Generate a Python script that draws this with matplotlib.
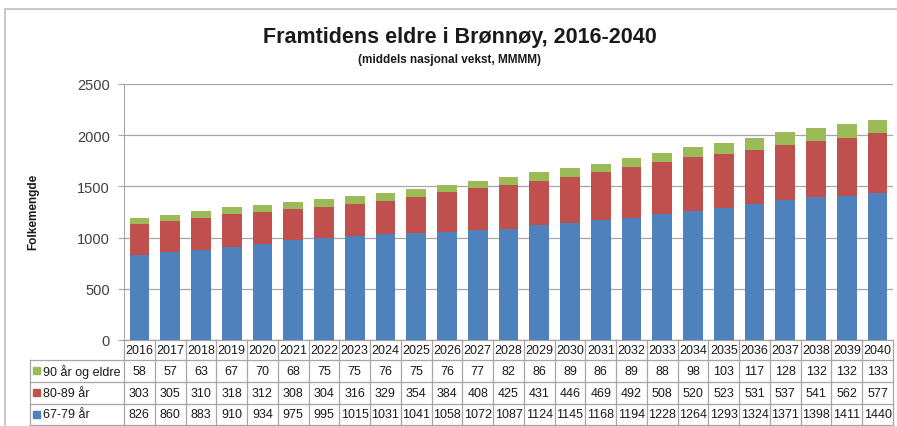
import matplotlib.pyplot as plt
import matplotlib.transforms as mtransforms
from matplotlib.patches import Rectangle

aar = list(range(2016, 2041))
eldre_90 = [58, 57, 63, 67, 70, 68, 75, 75, 76, 75, 76, 77, 82, 86, 89, 86, 89, 88, 98, 103, 117, 128, 132, 132, 133]
eldre_80_89 = [303, 305, 310, 318, 312, 308, 304, 316, 329, 354, 384, 408, 425, 431, 446, 469, 492, 508, 520, 523, 531, 537, 541, 562, 577]
eldre_67_79 = [826, 860, 883, 910, 934, 975, 995, 1015, 1031, 1041, 1058, 1072, 1087, 1124, 1145, 1168, 1194, 1228, 1264, 1293, 1324, 1371, 1398, 1411, 1440]

serier = ['90 år og eldre', '80-89 år', '67-79 år']
rader = [eldre_90, eldre_80_89, eldre_67_79]
farger = ['#9BBB59', '#C0504D', '#4F81BD']

plt.rcParams['font.family'] = ['Liberation Sans', 'DejaVu Sans']

W, H = 897, 427
fig = plt.figure(figsize=(W / 100, H / 100), dpi=100)

# ramme rundt diagrammet
fig.patches.append(Rectangle((5 / W, -0.1), 1.2, (H - 10) / H + 0.1, transform=fig.transFigure,
                             fill=False, edgecolor='#BFBFBF', linewidth=1.2))

x0, x1, ytop, ybot = 124, 893, 85, 341
ax = fig.add_axes([x0 / W, (H - ybot) / H, (x1 - x0) / W, (ybot - ytop) / H])

x = range(len(aar))
ax.bar(x, eldre_67_79, width=0.64, color=farger[2], zorder=3)
ax.bar(x, eldre_80_89, width=0.64, bottom=eldre_67_79, color=farger[1], zorder=3)
bunn = [a + b for a, b in zip(eldre_67_79, eldre_80_89)]
ax.bar(x, eldre_90, width=0.64, bottom=bunn, color=farger[0], zorder=3)

ax.set_xlim(-0.5, len(aar) - 0.5)
ax.set_ylim(0, 2500)
ax.set_yticks(range(0, 2501, 500))
ax.set_xticks([])
ax.grid(axis='y', color='#A6A6A6', linewidth=0.9, zorder=0)
for s in ['top', 'right', 'bottom']:
    ax.spines[s].set_visible(False)
ax.spines['left'].set_color('#A6A6A6')
ax.tick_params(axis='y', colors='#A6A6A6', labelcolor='#404040', labelsize=10.5, length=4, pad=6)

# datatabell under diagrammet: x i dataenheter, y i aksekoordinater
tr = mtransforms.blended_transform_factory(ax.transData, ax.transAxes)
kol_px = (x1 - x0) / len(aar)
lab_left = -0.5 - (x0 - 30) / kol_px
rad_y = [(ybot - p) / (ybot - ytop) for p in (341, 361, 383, 405, 426)]
right = len(aar) - 0.5
lk = dict(transform=tr, color='#A6A6A6', linewidth=0.9, clip_on=False)

ax.plot([-0.5, right], [rad_y[0]] * 2, **lk)
for yy in rad_y[1:]:
    ax.plot([lab_left, right], [yy] * 2, **lk)
for k in range(len(aar) + 1):
    ax.plot([k - 0.5] * 2, [rad_y[0], rad_y[-1]], **lk)
ax.plot([lab_left] * 2, [rad_y[1], rad_y[-1]], **lk)

tk = dict(transform=tr, ha='center', va='center', fontsize=9, color='#1A1A1A', clip_on=False)
for i, a in enumerate(aar):
    ax.text(i, (rad_y[0] + rad_y[1]) / 2, str(a), **tk)
for r, (navn, verdier, f) in enumerate(zip(serier, rader, farger)):
    ym = (rad_y[r + 1] + rad_y[r + 2]) / 2
    for i, v in enumerate(verdier):
        ax.text(i, ym, str(v), **tk)
    ax.add_patch(Rectangle((lab_left + 3 / kol_px, ym - 0.013), 7 / kol_px, 0.027, transform=tr,
                           color=f, clip_on=False))
    ax.text(lab_left + 13 / kol_px, ym, navn, transform=tr, ha='left', va='center', fontsize=9,
            color='#1A1A1A', clip_on=False)

fig.text(460 / W, 1 - 38 / H, 'Framtidens eldre i Brønnøy, 2016-2040', ha='center', va='center',
         fontsize=15.5, fontweight='bold', color='#1A1A1A')
fig.text(449 / W, 1 - 60 / H, '(middels nasjonal vekst, MMMM)', ha='center', va='center',
         fontsize=8.5, fontweight='bold', color='#1A1A1A')
fig.text(33 / W, 1 - 212 / H, 'Folkemengde', rotation=90, ha='center', va='center',
         fontsize=8.5, fontweight='bold', color='#1A1A1A')

fig.savefig('out.png', dpi=100)
